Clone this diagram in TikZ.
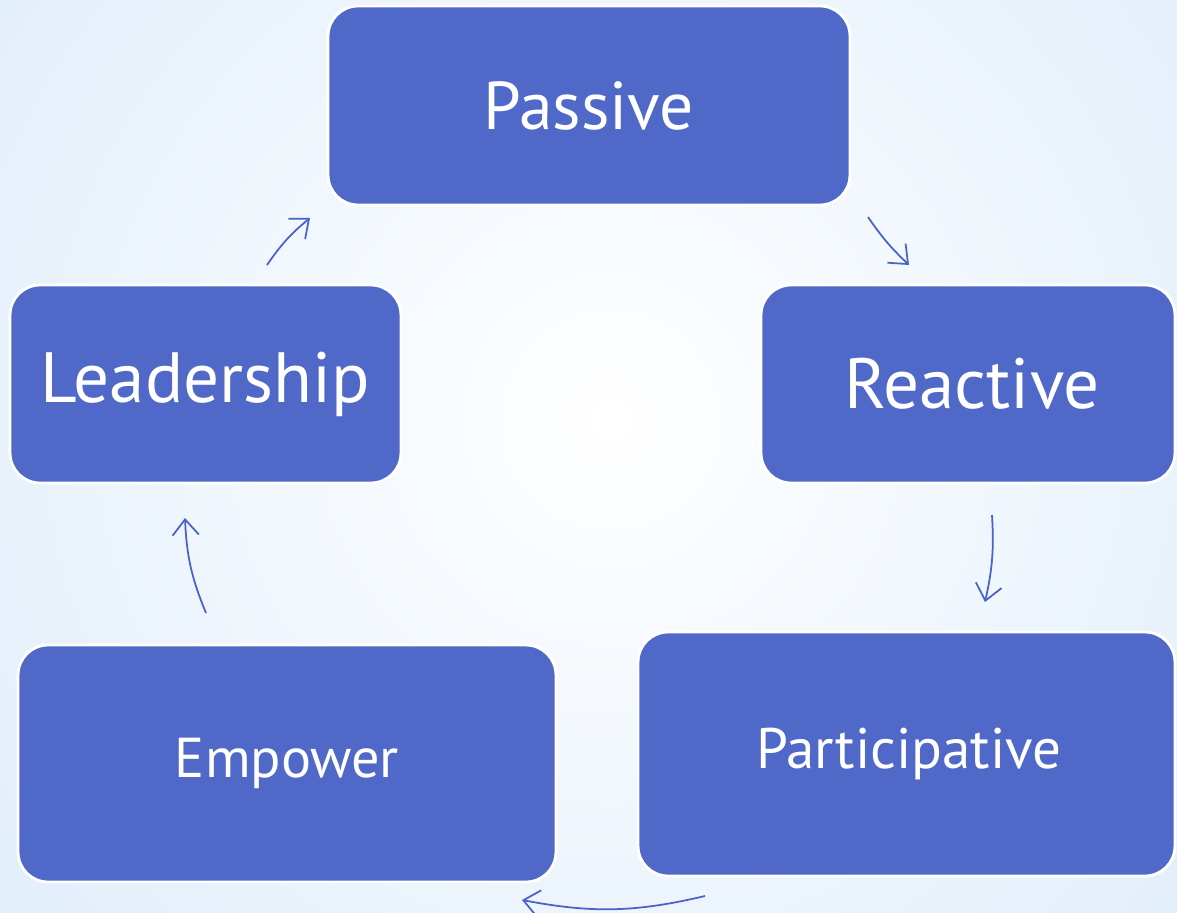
\documentclass[tikz,border=0pt]{standalone}
\usepackage{fontspec}
\setmainfont{PT Sans}
\usetikzlibrary{arrows.meta}
\definecolor{boxblue}{RGB}{80,105,200}
\definecolor{arrblue}{RGB}{72,98,200}
\definecolor{bgblue}{RGB}{224,237,250}
\tikzset{
	stage/.style={draw=white, line width=1.6pt, fill=boxblue, rounded corners=0.6cm, text=white, inner sep=0pt},
	flow/.style={draw=arrblue, line width=1pt, -{Straight Barb[length=9pt, width=15pt]}}
}
\begin{document}
\begin{tikzpicture}[x=0.02cm, y=-0.02cm]
				\useasboundingbox (0,0) rectangle (1177,913);
				\begin{scope}
					\clip (0,0) rectangle (1177,913);
					\fill[bgblue] (0,0) rectangle (1177,913);
					\shade[inner color=white, outer color=bgblue] (610,420) circle (820);
				\end{scope}
				\node[stage, minimum width=10.44cm, minimum height=3.98cm, font=\fontsize{38.5}{44}\selectfont] (passive) at (589,105.5) {Passive};
				\node[stage, minimum width=8.28cm, minimum height=3.96cm, font=\fontsize{40.5}{46}\selectfont] (reactive) at (968,384) {\hspace*{0.16cm}Reactive};
				\node[stage, minimum width=7.82cm, minimum height=3.96cm, font=\fontsize{40.5}{46}\selectfont] (leader) at (205.5,384) {Leadership};
				\node[stage, minimum width=10.76cm, minimum height=4.74cm, font=\fontsize{32}{37}\selectfont] (empower) at (287,763.5) {Empower};
				\node[stage, minimum width=10.74cm, minimum height=4.88cm, font=\fontsize{32.5}{37}\selectfont] (partic) at (906.5,754) {\hspace*{0.1cm}Participative};
				% arrow ends
				\coordinate (l1) at (267,265);
				\coordinate (l2) at (310,218);
				\coordinate (p1) at (868,217);
				\coordinate (p2) at (909,265);
				\coordinate (r1) at (992,515);
				\coordinate (r2) at (985,602);
				\coordinate (t1) at (705,896);
				\coordinate (t2) at (522,900);
				\coordinate (e1) at (206,613);
				\coordinate (e2) at (185,518);
				\foreach \a/\b/\bend in {l1/l2/8, p1/p2/-6, r1/r2/8, t1/t2/12, e1/e2/10} {
					\draw[flow] (\a) to[bend left=\bend] (\b);
				}
			\end{tikzpicture}
\end{document}
